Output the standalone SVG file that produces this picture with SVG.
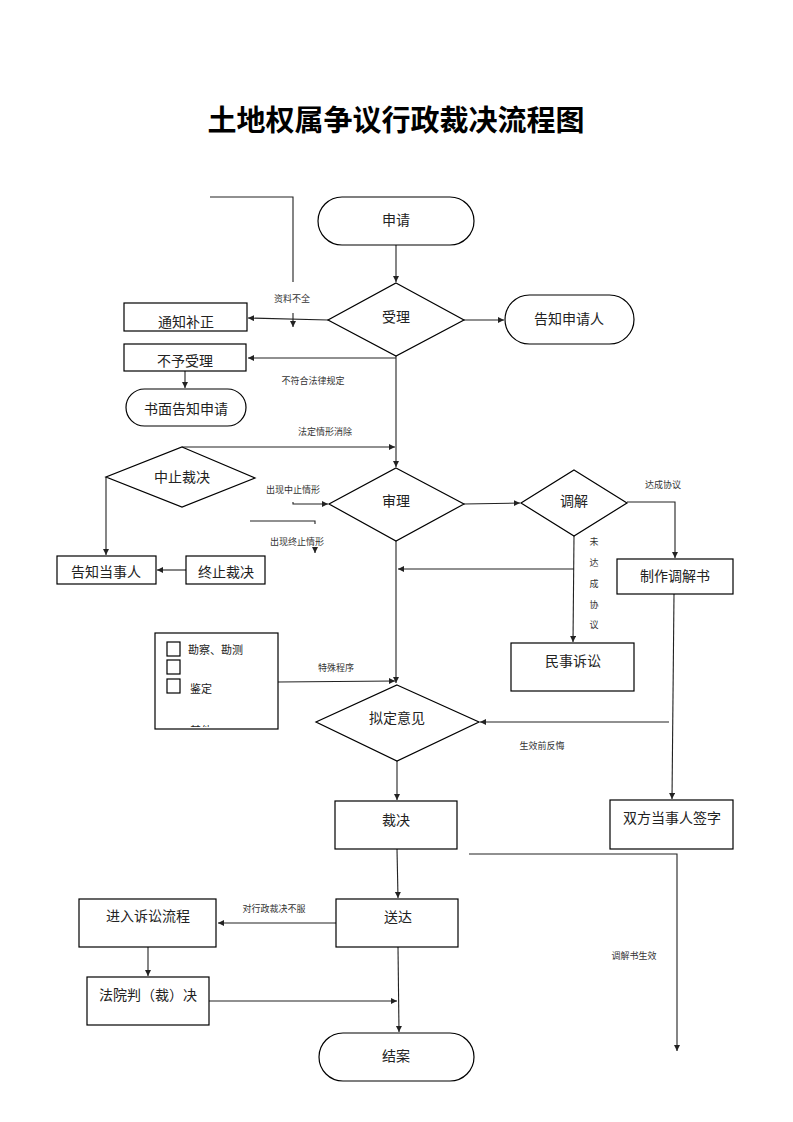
<svg xmlns="http://www.w3.org/2000/svg" width="793" height="1122" viewBox="0 0 793 1122">
<style>
.n{fill:#fff;stroke:#000;stroke-width:1.2}
.t{font-family:"Liberation Serif","Noto Sans CJK SC",serif;font-size:14px;fill:#222;text-anchor:middle;dominant-baseline:central}
.s{font-family:"Liberation Serif","Noto Sans CJK SC",serif;font-size:9px;fill:#333;text-anchor:middle;dominant-baseline:central}
.c{fill:none;stroke:#222;stroke-width:1.1}
.a{marker-end:url(#ah)}
</style>
<defs>
<marker id="ah" markerWidth="8" markerHeight="8" refX="6" refY="3" orient="auto" markerUnits="userSpaceOnUse">
<path d="M0,0 L6,3 L0,6 z" fill="#222"/>
</marker>
<clipPath id="clipbox"><rect x="155" y="633" width="123" height="94"/></clipPath>
</defs>
<rect width="793" height="1122" fill="#fff"/>
<text x="396" y="118" font-family="'Noto Sans CJK SC',sans-serif" font-size="29" font-weight="bold" text-anchor="middle" dominant-baseline="central" fill="#000">土地权属争议行政裁决流程图</text>

<g id="connectors">
<path class="c a" d="M396,245 V282"/>
<path class="c a" d="M464,320 H504"/>
<path class="c a" d="M328,320 L248,318"/>
<path class="c" d="M210,197 H293 V282"/>
<path class="c a" d="M293,313 V327"/>
<path class="c a" d="M396,358 H248"/>
<path class="c a" d="M185,371 V388"/>
<path class="c a" d="M396,356 V467"/>
<path class="c a" d="M182,447 H395"/>
<path class="c a" d="M106,477 V555"/>
<path class="c a" d="M186,570 H157"/>
<path class="c a" d="M293,502 V504 H328"/>
<path class="c" d="M250,521 H315 V524"/>
<path class="c a" d="M315,550 V553"/>
<path class="c a" d="M464,504 L520,503"/>
<path class="c a" d="M627,502 H675 V558"/>
<path class="c a" d="M574,536 L573,642"/>
<path class="c a" d="M574,569 H398"/>
<path class="c a" d="M396,541 V683"/>
<path class="c a" d="M278,682 L395,681"/>
<path class="c a" d="M669,722 H480"/>
<path class="c a" d="M674,594 L672,799"/>
<path class="c a" d="M397,761 V800"/>
<path class="c a" d="M397,849 L398,898"/>
<path class="c a" d="M469,854 H677 V1051"/>
<path class="c a" d="M336,923 H218"/>
<path class="c a" d="M148,947 V976"/>
<path class="c a" d="M209,1001 H397"/>
<path class="c a" d="M398,947 L399,1032"/>
</g>

<g id="labels">
<text class="s" x="292" y="299">资料不全</text>
<text class="s" x="313" y="381">不符合法律规定</text>
<text class="s" x="325" y="432">法定情形消除</text>
<text class="s" x="293" y="490">出现中止情形</text>
<text class="s" x="297" y="542">出现终止情形</text>
<text class="s" x="663" y="485">达成协议</text>
<text class="s" x="594" y="542">未</text>
<text class="s" x="594" y="563">达</text>
<text class="s" x="594" y="584">成</text>
<text class="s" x="594" y="605">协</text>
<text class="s" x="594" y="625">议</text>
<text class="s" x="336" y="668">特殊程序</text>
<text class="s" x="542" y="746">生效前反悔</text>
<text class="s" x="634" y="956">调解书生效</text>
<text class="s" x="274" y="909">对行政裁决不服</text>
</g>

<g id="n-shenqing"><rect class="n" x="318" y="197" width="156" height="48" rx="24"/><text class="t" x="396" y="220">申请</text></g>
<g id="n-shouli"><polygon class="n" points="396,283 464,320 396,356 328,320"/><text class="t" x="396" y="317">受理</text></g>
<g id="n-gaozhisqr"><rect class="n" x="505" y="295" width="129" height="49" rx="24.5"/><text class="t" x="569" y="319">告知申请人</text></g>
<g id="n-tongzhi"><rect class="n" x="124" y="303" width="123" height="28"/><text class="t" x="186" y="322">通知补正</text></g>
<g id="n-buyu"><rect class="n" x="124" y="344" width="122" height="27"/><text class="t" x="185" y="361">不予受理</text></g>
<g id="n-shumian"><rect class="n" x="126" y="389" width="120" height="37" rx="18.5"/><text class="t" x="186" y="409">书面告知申请</text></g>
<g id="n-zhongzhi"><polygon class="n" points="182,447 255,478 182,507 106,477"/><text class="t" x="182" y="477">中止裁决</text></g>
<g id="n-gaozhidsr"><rect class="n" x="57" y="556" width="99" height="28"/><text class="t" x="106" y="572">告知当事人</text></g>
<g id="n-zhongzhicj"><rect class="n" x="186" y="556" width="79" height="28"/><text class="t" x="226" y="572">终止裁决</text></g>
<g id="n-shenli"><polygon class="n" points="396,468 464,504 396,541 329,504"/><text class="t" x="396" y="501">审理</text></g>
<g id="n-tiaojie"><polygon class="n" points="574,470 627,503 574,536 521,503"/><text class="t" x="574" y="501">调解</text></g>
<g id="n-zhizuo"><rect class="n" x="617" y="559" width="116" height="35"/><text class="t" x="675" y="576">制作调解书</text></g>
<g id="n-minshi"><rect class="n" x="511" y="643" width="123" height="48"/><text class="t" x="573" y="661">民事诉讼</text></g>
<g id="n-teshu">
<rect class="n" x="155" y="633" width="123" height="96"/>
<rect class="n" x="167" y="642" width="13" height="14"/>
<rect class="n" x="167" y="660" width="13" height="14"/>
<rect class="n" x="167" y="679" width="13" height="14"/>
<text class="t" x="188" y="650" font-size="11" text-anchor="start" style="font-size:11px;text-anchor:start">勘察、勘测</text>
<text class="t" x="190" y="689" style="font-size:11px;text-anchor:start">鉴定</text>
<g clip-path="url(#clipbox)"><text class="t" x="190" y="731" style="font-size:11px;text-anchor:start">其他</text></g>
</g>
<g id="n-niding"><polygon class="n" points="397,685 479,722 397,761 316,722"/><text class="t" x="397" y="718">拟定意见</text></g>
<g id="n-shuangfang"><rect class="n" x="610" y="800" width="123" height="49"/><text class="t" x="672" y="818">双方当事人签字</text></g>
<g id="n-caijue"><rect class="n" x="335" y="801" width="122" height="48"/><text class="t" x="396" y="820">裁决</text></g>
<g id="n-songda"><rect class="n" x="336" y="899" width="122" height="48"/><text class="t" x="398" y="917">送达</text></g>
<g id="n-susong"><rect class="n" x="79" y="899" width="137" height="48"/><text class="t" x="148" y="916">进入诉讼流程</text></g>
<g id="n-fayuan"><rect class="n" x="87" y="977" width="122" height="48"/><text class="t" x="148" y="995">法院判（裁）决</text></g>
<g id="n-jiean"><rect class="n" x="319" y="1033" width="155" height="48" rx="24"/><text class="t" x="396" y="1056">结案</text></g>
</svg>
